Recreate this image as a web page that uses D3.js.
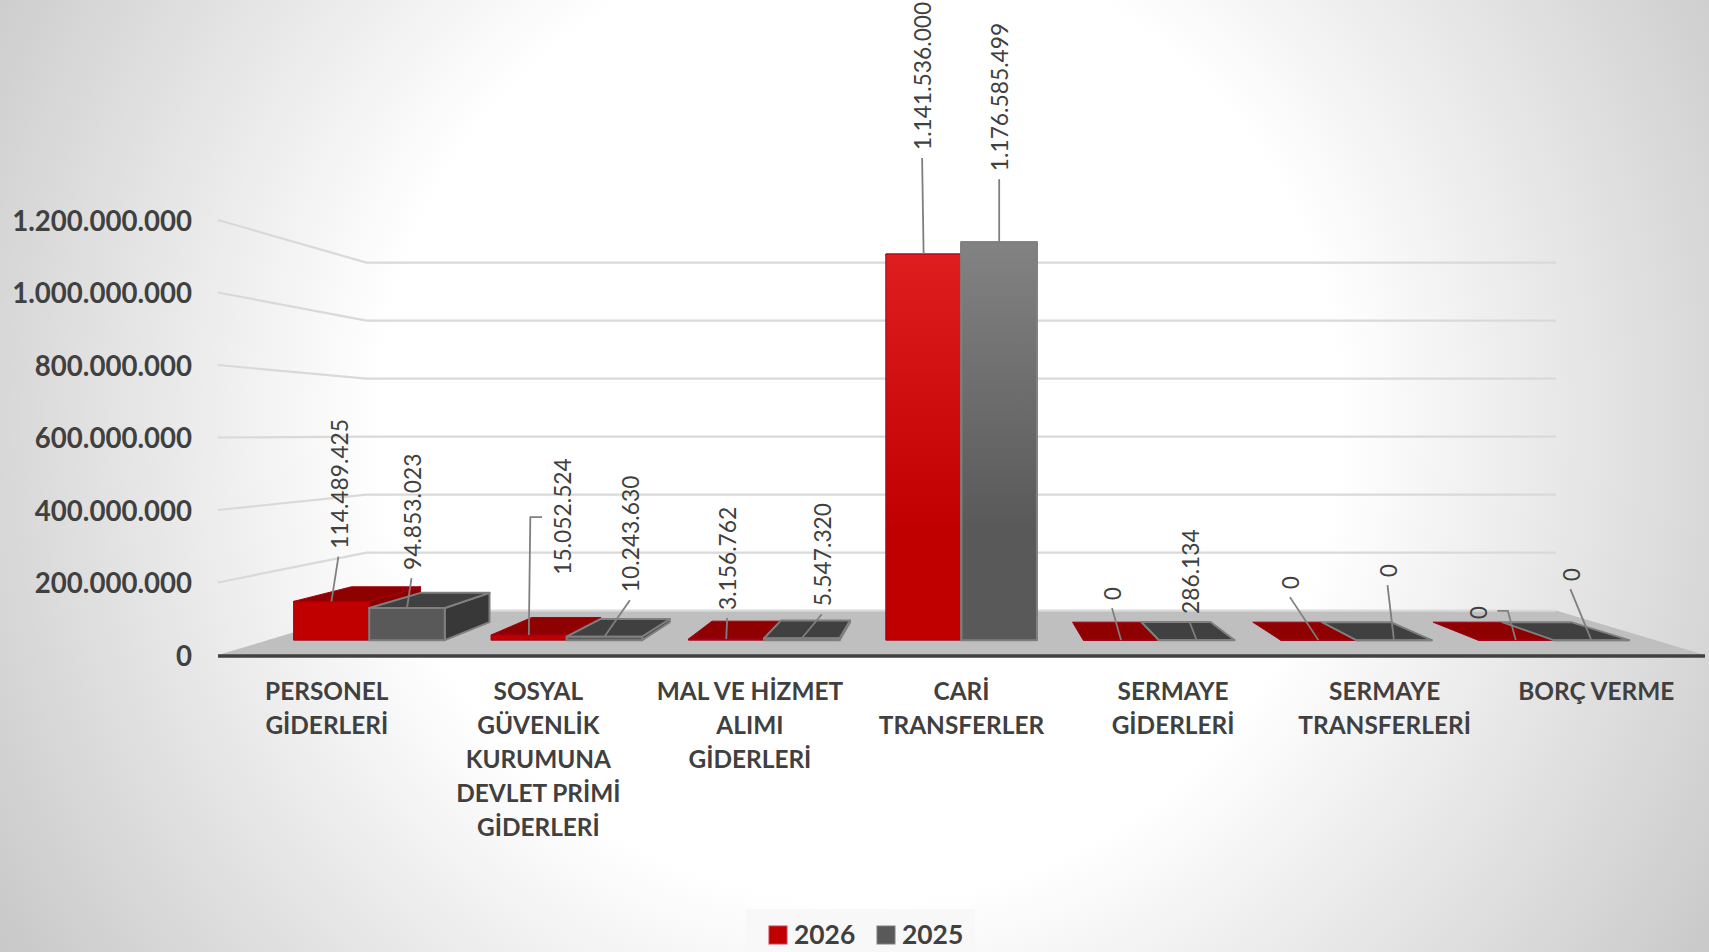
<!DOCTYPE html>
<html><head><meta charset="utf-8">
<script src="https://cdnjs.cloudflare.com/ajax/libs/d3/7.8.5/d3.min.js"></script>
<style>html,body{margin:0;padding:0;overflow:hidden;background:#fff}svg{display:block}</style>
</head><body><svg id="c" width="1709" height="952"></svg>
<script>
const categories = [
  ["PERSONEL","GİDERLERİ"],
  ["SOSYAL","GÜVENLİK","KURUMUNA","DEVLET PRİMİ","GİDERLERİ"],
  ["MAL VE HİZMET","ALIMI","GİDERLERİ"],
  ["CARİ","TRANSFERLER"],
  ["SERMAYE","GİDERLERİ"],
  ["SERMAYE","TRANSFERLERİ"],
  ["BORÇ VERME"]
];
const seriesNames = ["2026","2025"];
const values2026 = [114489425,15052524,3156762,1141536000,0,0,0];
const values2025 = [94853023,10243630,5547320,1176585499,286134,0,0];
const yTicks = [0,200000000,400000000,600000000,800000000,1000000000,1200000000];

// label placement relative to the front-top centre of each bar
const labelDx2026 = [8,33.5,2,-0.5,-8,-27.5,-37.4];
const labelDy2026 = [-54.7,-62.3,-31,-106,-42,-53,-23];
const labelDx2025 = [5.5,26.5,21,1,-6,-5.5,-20];
const labelDy2025 = [-40,-46.5,-34,-73,-28,-65,-61];
// leader lines with an elbow: [series, category, startDx, startDy, elbowDx]
const elbows = [[0,1,13.2,-118,1.5],[0,6,-18.5,-29.3,-8]];

const W=1709,H=952;
const svg=d3.select("#c");
const FONT="Lato, 'Noto Sans', sans-serif";
const fmt=d3.formatLocale({decimal:",",thousands:".",grouping:[3],currency:["",""]}).format(",d");

const x=d3.scaleBand().domain(d3.range(categories.length)).range([221,1702]);
const y=d3.scaleLinear().domain([0,1200000000]).range([655,220]);
const inner=d3.scaleBand().domain(seriesNames).range([x.bandwidth()/2-81,x.bandwidth()/2+81]);

// one-point perspective
const VX=960,VY=433,WALL=0.2,BAR_F=0.067,BAR_B=0.148;
const proj=(px,py,k)=>[px+(VX-px)*k,py+(VY-py)*k];
const poly=pts=>pts.map(p=>p.join(",")).join(" ");

const defs=svg.append("defs");
const bg=defs.append("radialGradient").attr("id","bg").attr("gradientUnits","userSpaceOnUse")
  .attr("cx",860).attr("cy",420).attr("r",1030);
[[0,"#ffffff"],[0.466,"#ffffff"],[1,"#c6c6c6"]].forEach(s=>bg.append("stop").attr("offset",s[0]).attr("stop-color",s[1]));
function grad(id,c0,c1){
  const g=defs.append("linearGradient").attr("id",id).attr("gradientUnits","userSpaceOnUse")
    .attr("x1",0).attr("x2",0).attr("y1",530).attr("y2",245);
  g.append("stop").attr("offset",0).attr("stop-color",c0);
  g.append("stop").attr("offset",1).attr("stop-color",c1);
}
grad("gRed","#c00000","#e02020");
grad("gGray","#595959","#828282");

svg.append("rect").attr("width",W).attr("height",H).attr("fill","url(#bg)");

// floor
const xL=x.range()[0]-3,xR=x.range()[1]+3;
svg.append("polygon").attr("fill","#bfbfbf")
  .attr("points",poly([[xL,y(0)],proj(xL,y(0),WALL),proj(xR,y(0),WALL),[xR,y(0)]]));

// walls gridlines
const gl=svg.append("g").attr("fill","none").attr("stroke","#d9d9d9").attr("stroke-width",2.2);
yTicks.forEach(t=>{
  const a=[xL,y(t)],b=proj(xL,y(t),WALL),c=proj(xR,y(t),WALL);
  gl.append("polyline").attr("points",poly(t===0?[b,c]:[a,b,c]));
});

// bars
const sets=[values2026,values2025];
const anchors=[[],[]];
const styles=[
  {front:"url(#gRed)",top:"#8f0000",side:"#8a0000",stroke:"#a00018",sw:1},
  {front:"url(#gGray)",top:"#404040",side:"#383838",stroke:"#7f7f7f",sw:2}
];
const barG=svg.append("g");
sets.forEach((vals,si)=>{
  const st=styles[si],name=seriesNames[si];
  vals.forEach((v,i)=>{
    const l=x(i)+inner(name),r=l+inner.bandwidth(),t=y(v),b=y(0);
    const FL=proj(l,b,BAR_F),FR=proj(r,b,BAR_F),TL=proj(l,t,BAR_F),TR=proj(r,t,BAR_F);
    const BFL=proj(l,b,BAR_B),BFR=proj(r,b,BAR_B),BTL=proj(l,t,BAR_B),BTR=proj(r,t,BAR_B);
    const g=barG.append("g").attr("stroke",st.stroke).attr("stroke-width",st.sw).attr("stroke-linejoin","round");
    if(v>0){
      if(FR[0]<VX) g.append("polygon").attr("points",poly([FR,TR,BTR,BFR])).attr("fill",st.side);
      if(FL[0]>VX) g.append("polygon").attr("points",poly([FL,TL,BTL,BFL])).attr("fill",st.side);
    }
    g.append("polygon").attr("points",poly([TL,TR,BTR,BTL])).attr("fill",st.top);
    g.append("polygon").attr("points",poly([TL,TR,FR,FL])).attr("fill",st.front);
    anchors[si][i]=[(TL[0]+TR[0])/2,TL[1]];
  });
});

// front floor edge
svg.append("line").attr("x1",xL).attr("x2",xR).attr("y1",y(0)+1).attr("y2",y(0)+1)
  .attr("stroke","#404040").attr("stroke-width",3.5);

// data labels
const dxs=[labelDx2026,labelDx2025],dys=[labelDy2026,labelDy2025];
const lab=svg.append("g");
sets.forEach((vals,si)=>vals.forEach((v,i)=>{
  const [ax,ay]=anchors[si][i];
  const tx=ax+dxs[si][i],ty=ay+dys[si][i];
  const e=elbows.find(d=>d[0]===si&&d[1]===i);
  const pts=e?[[ax+e[2],ay+e[3]],[ax+e[4],ay+e[3]],[ax,ay]]:[[tx-1,ty+10],[ax,ay]];
  lab.append("polyline").attr("points",poly(pts)).attr("fill","none").attr("stroke","#7f7f7f").attr("stroke-width",1.8);
  lab.append("text").attr("transform",`translate(${tx},${ty+2}) rotate(-90)`)
    .attr("dy","0.36em").attr("font-family",FONT).attr("font-size",22.8).attr("fill","#404040").text(fmt(v));
}));

// y axis
const yAxis=svg.append("g").attr("transform",`translate(192,1.5)`)
  .call(d3.axisLeft(y).tickValues(yTicks).tickFormat(fmt).tickSize(0).tickPadding(0));
yAxis.select(".domain").remove();
yAxis.selectAll("text").attr("font-family",FONT).attr("font-size",27.6).attr("font-weight",700).attr("fill","#404040");

// x axis
const xAxis=svg.append("g").attr("transform","translate(0,0)")
  .call(d3.axisBottom(x).tickSize(0).tickFormat(""));
xAxis.select(".domain").remove();
xAxis.selectAll(".tick text").each(function(d){
  const t=d3.select(this).attr("y",0).attr("dy",null).attr("font-family",FONT).attr("font-size",24.4)
    .attr("font-weight",700).attr("fill","#404040").attr("text-anchor","middle");
  categories[d].forEach((ln,j)=>t.append("tspan").attr("x",0).attr("y",700+j*33.9).text(ln));
});

// legend
const lg=svg.append("g");
lg.append("rect").attr("x",746).attr("y",909).attr("width",229).attr("height",43).attr("fill","#f8f8f8");
const legendX=d3.scalePoint().domain(seriesNames).range([769,877]);
seriesNames.forEach((n,i)=>{
  lg.append("rect").attr("x",legendX(n)).attr("y",926).attr("width",18).attr("height",18)
    .attr("fill",i?"#595959":"#c00000").attr("stroke",i?"#7f7f7f":"#c8404a").attr("stroke-width",1);
  lg.append("text").attr("x",legendX(n)+25).attr("y",944).attr("font-family",FONT).attr("font-size",26.4)
    .attr("font-weight",700).attr("fill","#404040").text(n);
});
</script></body></html>
